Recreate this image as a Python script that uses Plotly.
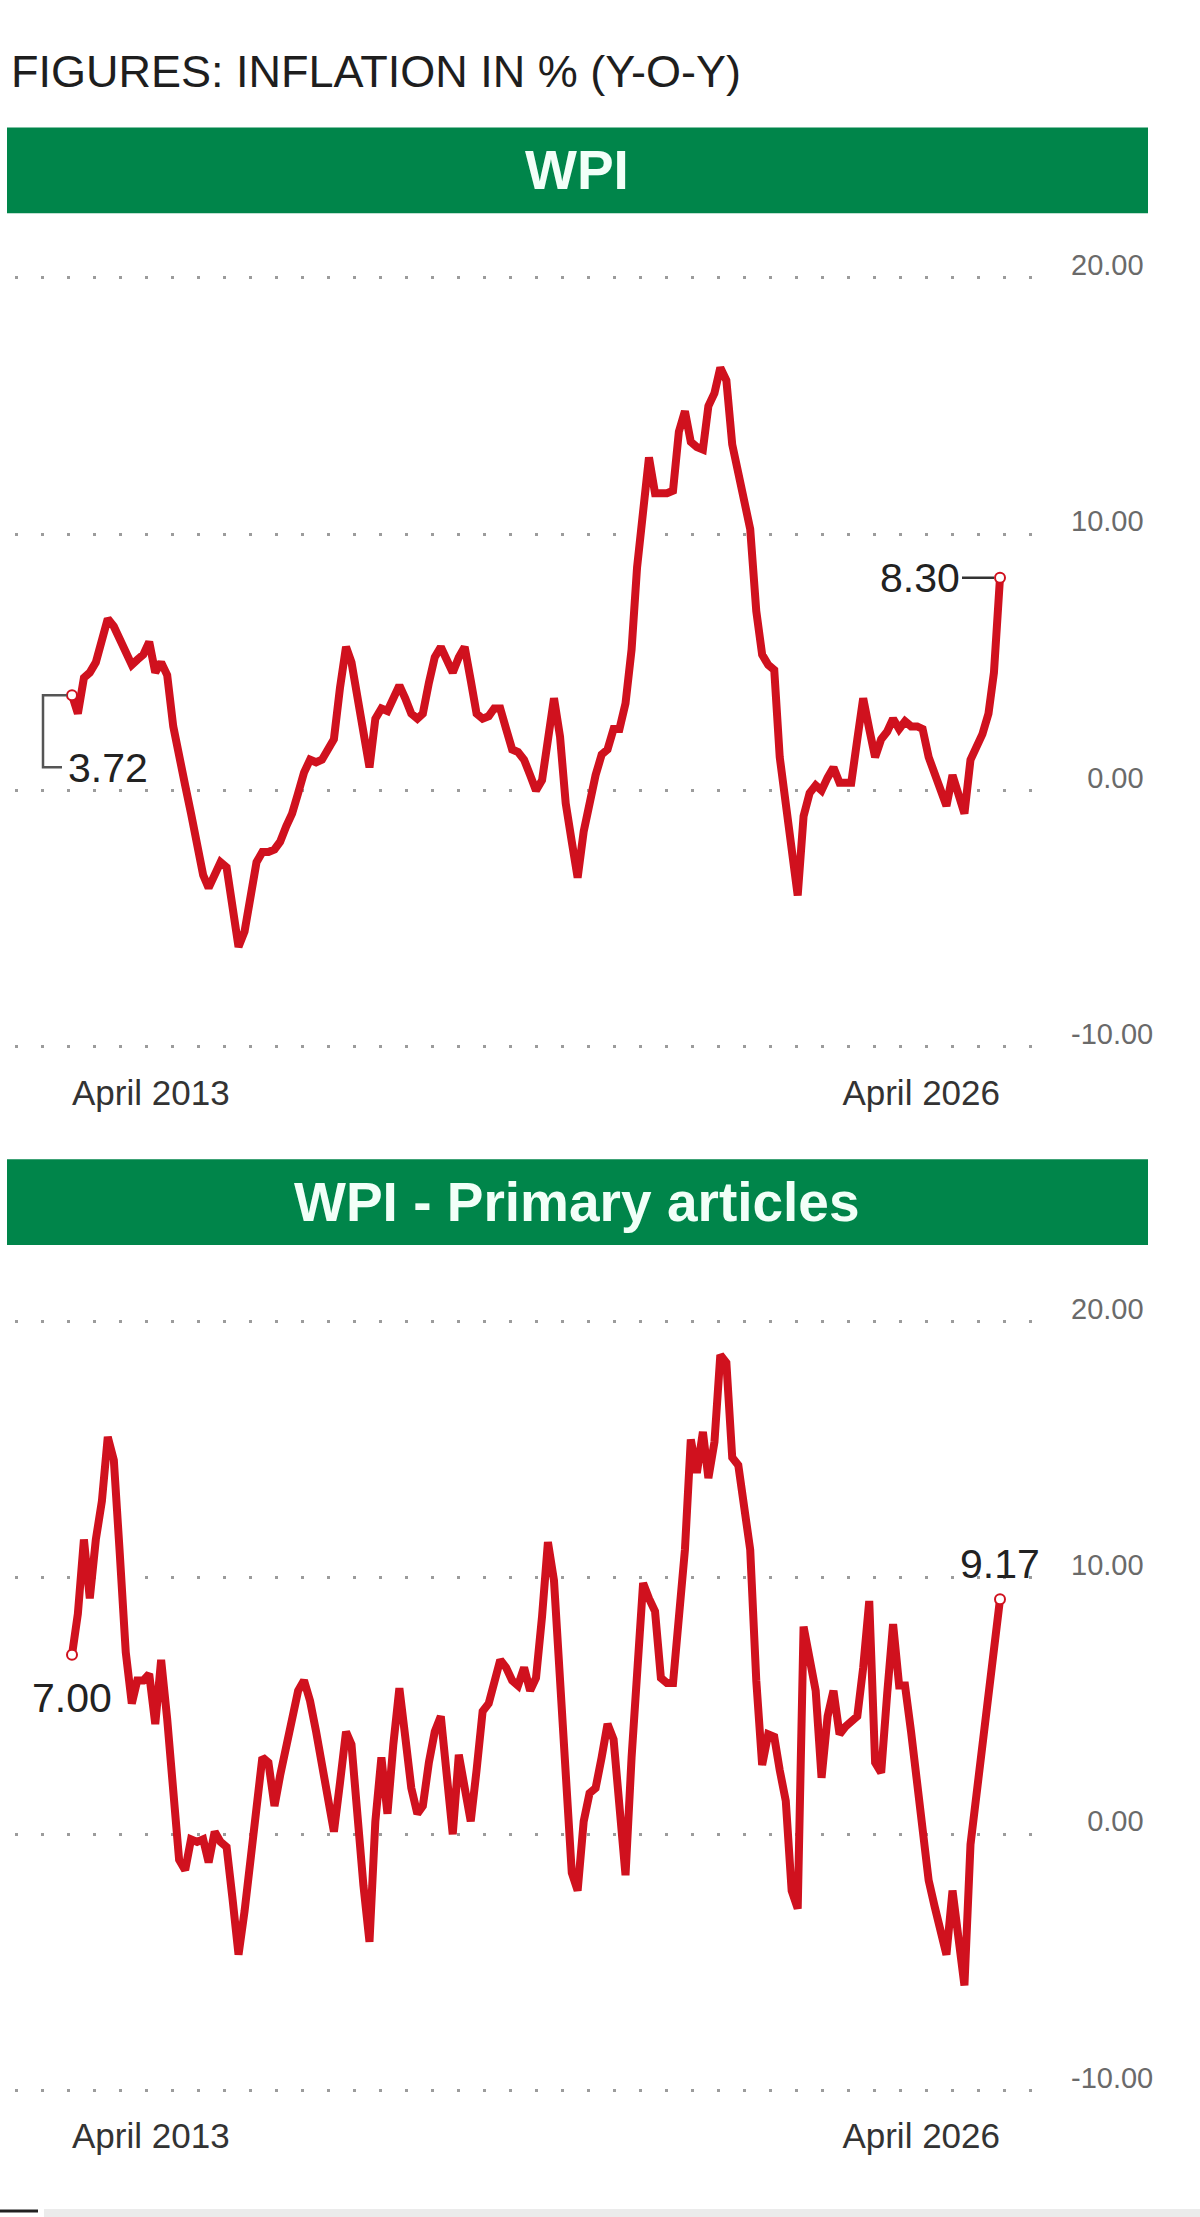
import pandas as pd
import plotly.graph_objects as go

# ---------------- data ----------------
months = pd.date_range("2013-04-01", periods=157, freq="MS")

wpi = [3.72, 3.0, 4.4, 4.6, 5.0, 6.0, 6.7, 6.4, 5.9, 5.3,
       4.9, 5.1, 5.3, 5.8, 4.6, 5.0, 4.5, 2.5, 1.5, 0.2,
       -0.9, -2.1, -3.3, -3.8, -3.2, -2.8, -3.0, -4.8, -6.1, -5.5,
       -4.0, -2.8, -2.4, -2.4, -2.3, -2.0, -1.4, -0.9, -0.1, 0.7,
       1.2, 1.1, 1.2, 1.6, 2.0, 4.0, 5.6, 5.0, 3.5, 2.0,
       0.9, 2.8, 3.2, 3.1, 3.6, 4.1, 3.6, 3.0, 2.8, 3.0,
       4.2, 5.2, 5.6, 5.1, 4.6, 5.2, 5.6, 4.3, 3.0, 2.8,
       2.9, 3.2, 3.2, 2.4, 1.6, 1.5, 1.2, 0.6, 0.0, 0.4,
       2.2, 3.6, 2.1, -0.5, -2.0, -3.4, -1.6, -0.4, 0.6, 1.4,
       1.6, 2.4, 2.4, 3.4, 5.5, 8.7, 11.0, 13.0, 11.6, 11.6,
       11.6, 11.7, 14.0, 14.8, 13.6, 13.4, 13.3, 15.0, 15.5, 16.5,
       16.0, 13.5, 12.3, 11.2, 10.2, 7.0, 5.3, 4.9, 4.7, 1.3,
       -0.5, -2.5, -4.1, -1.0, -0.1, 0.2, 0.0, 0.5, 0.9, 0.3,
       0.3, 0.3, 2.0, 3.6, 2.4, 1.3, 2.0, 2.3, 2.8, 2.4,
       2.7, 2.5, 2.5, 2.4, 1.3, 0.6, 0.0, -0.6, 0.6, -0.2,
       -0.9, 1.2, 1.7, 2.2, 3.0, 4.6, 8.30]

primary = [7.00, 8.6, 11.5, 9.2, 11.5, 13.0, 15.5, 14.6, 11.0, 7.1,
           5.1, 6.0, 6.0, 6.25, 4.3, 6.8, 4.5, 1.5, -1.0, -1.4,
           -0.2, -0.3, -0.2, -1.1, 0.1, -0.3, -0.5, -2.5, -4.7, -3.0,
           -0.8, 1.0, 3.0, 2.8, 1.1, 2.3, 3.5, 4.6, 5.6, 6.0,
           5.2, 4.0, 2.8, 1.4, 0.1, 2.0, 4.0, 3.5, 0.5, -2.0,
           -4.2, 0.5, 3.0, 0.8, 3.5, 5.7, 3.8, 1.8, 0.8, 1.1,
           2.8, 4.0, 4.6, 2.2, 0.0, 3.1, 1.8, 0.5, 2.5, 4.8,
           5.1, 6.0, 6.8, 6.5, 6.0, 5.8, 6.5, 5.6, 6.1, 8.5,
           11.4, 9.9, 6.0, 1.5, -1.5, -2.2, 0.5, 1.6, 1.8, 3.0,
           4.3, 3.7, 1.2, -1.6, 3.0, 6.5, 9.8, 9.2, 8.7, 6.1,
           5.9, 5.9, 8.5, 11.1, 15.4, 14.1, 15.7, 13.9, 15.3, 18.7,
           18.4, 14.7, 14.4, 12.5, 11.1, 6.0, 2.7, 3.9, 3.8, 2.5,
           1.3, -2.2, -2.9, 8.1, 6.8, 5.6, 2.2, 4.6, 5.6, 3.9,
           4.2, 4.4, 4.6, 6.5, 9.1, 2.8, 2.4, 5.5, 8.2, 5.8,
           5.8, 4.0, 2.0, 0.2, -1.8, -2.8, -3.8, -4.7, -2.2, -4.4,
           -5.9, -0.4, 1.5, 3.0, 5.0, 7.1, 9.17]

title_text = "FIGURES: INFLATION IN % (Y-O-Y)"
panel_titles = ["WPI", "WPI - Primary articles"]
x_tick_labels = ["April 2013", "April 2026"]
y_tick_values = [-10, 0, 10, 20]
y_tick_labels = ["-10.00", "\u20070.00", "10.00", "20.00"]

# ---------------- styling / layout ----------------
W, H = 1200, 2217
FONT = "Liberation Sans, Arial, sans-serif"
RED = "#d0111e"
GREEN = "#00854a"
GRID = "#9c9c9c"


def py(v):
    return 1 - v / H


def pxx(v):
    return v / W


x_dom = [pxx(15), pxx(1042)]
px_per_day = (1000 - 72) / (months[-1] - months[0]).days
x_start = months[0] - pd.Timedelta(days=(72 - 15) / px_per_day)
x_end = months[-1] + pd.Timedelta(days=(1042 - 1000) / px_per_day)
x_range = [x_start, x_end]

pad = 20 / (772 / 30)
y_range = [-10 - pad, 20 + pad]

panels = [
    dict(top=250, bottom=1062, series=wpi, xa="x", ya="y", xo="x3"),
    dict(top=1298, bottom=2110, series=primary, xa="x2", ya="y2", xo="x4"),
]

fig = go.Figure()

for p in panels:
    fig.add_trace(go.Scatter(
        x=months, y=p["series"], xaxis=p["xa"], yaxis=p["ya"],
        mode="lines", line=dict(color=RED, width=8),
        hoverinfo="skip", showlegend=False))
    fig.add_trace(go.Scatter(
        x=[months[0], months[-1]], y=[p["series"][0], p["series"][-1]],
        xaxis=p["xa"], yaxis=p["ya"], mode="markers",
        marker=dict(symbol="circle", size=10, color="white",
                    line=dict(color=RED, width=2)),
        hoverinfo="skip", showlegend=False))
    # empty trace so the overlay axis (right-hand date label) is drawn
    fig.add_trace(go.Scatter(x=[], y=[], xaxis=p["xo"], yaxis=p["ya"],
                             showlegend=False))

xcommon = dict(type="date", range=x_range, showgrid=False, zeroline=False,
               showline=False, ticks="",
               tickfont=dict(family=FONT, size=35, color="#333333"),
               ticklabelstandoff=2)
ycommon = dict(range=y_range, side="right", tickvals=y_tick_values,
               ticktext=y_tick_labels, showgrid=True, gridcolor=GRID,
               gridwidth=3, griddash="3px,23px", zeroline=False,
               showline=False, ticks="", ticklabelshift=-13,
               ticklabelstandoff=28,
               tickfont=dict(family=FONT, size=29, color="#6a6a6a"))

layout_axes = {}
for i, p in enumerate(panels):
    n1 = "" if i == 0 else "2"
    yname = "yaxis" + n1
    layout_axes["xaxis" + n1] = dict(
        xcommon, domain=x_dom, anchor=p["ya"],
        tickvals=[months[0]], ticktext=[x_tick_labels[0]],
        ticklabelposition="outside right")
    layout_axes["xaxis" + p["xo"][1:]] = dict(
        xcommon, anchor=p["ya"], overlaying=p["xa"], matches=p["xa"],
        tickvals=[months[-1]], ticktext=[x_tick_labels[1]],
        ticklabelposition="outside left")
    layout_axes[yname] = dict(ycommon, domain=[py(p["bottom"]), py(p["top"])],
                              anchor=p["xa"])

fig.update_layout(**layout_axes)

shapes = []
annotations = []

# green header bars
for (t, b), label in zip([(119, 205), (1155, 1241)], panel_titles):
    shapes.append(dict(type="rect", xref="paper", yref="paper",
                       x0=pxx(7), x1=pxx(1148), y0=py(b), y1=py(t),
                       fillcolor=GREEN, line=dict(width=0), layer="below"))
    annotations.append(dict(xref="paper", yref="paper", x=pxx(577),
                            y=py((t + b) / 2), text=f"<b>{label}</b>",
                            showarrow=False, xanchor="center",
                            yanchor="middle",
                            font=dict(family=FONT, size=55, color="#f2fff8")))

# main title
annotations.append(dict(xref="paper", yref="paper", x=pxx(9), y=py(63),
                        text=title_text, showarrow=False, xanchor="left",
                        yanchor="middle",
                        font=dict(family=FONT, size=45, color="#1e1e1e")))

VAL_FONT = dict(family=FONT, size=41, color="#222222")

# WPI first value: bracket + label
shapes.append(dict(type="path", xref="x", yref="y", xsizemode="pixel",
                   ysizemode="pixel", xanchor=months[0], yanchor=wpi[0],
                   path="M -5 0 L -29 0 L -29 -72 L -10 -72",
                   line=dict(color="#555555", width=2.5)))
annotations.append(dict(xref="x", yref="y", x=months[0], y=wpi[0],
                        text=f"{wpi[0]:.2f}", showarrow=False,
                        xanchor="left", yanchor="top", xshift=-6,
                        yshift=-48, font=VAL_FONT))
# WPI last value with leader dash
annotations.append(dict(xref="x", yref="y", x=months[-1], y=wpi[-1],
                        text=f"{wpi[-1]:.2f}", showarrow=True, arrowhead=0,
                        arrowwidth=2.5, arrowcolor="#333333", ax=-38, ay=0,
                        xanchor="right", yanchor="middle", standoff=6,
                        font=VAL_FONT))
# Primary first / last values
annotations.append(dict(xref="x2", yref="y2", x=months[0], y=primary[0],
                        text=f"{primary[0]:.2f}", showarrow=False,
                        xanchor="center", yanchor="top", yshift=-18,
                        font=VAL_FONT))
annotations.append(dict(xref="x2", yref="y2", x=months[-1], y=primary[-1],
                        text=f"{primary[-1]:.2f}", showarrow=False,
                        xanchor="center", yanchor="bottom", yshift=10,
                        font=VAL_FONT))

# bottom rule
shapes.append(dict(type="line", xref="paper", yref="paper", x0=0,
                   x1=pxx(38), y0=py(2211), y1=py(2211),
                   line=dict(color="#222222", width=3)))
shapes.append(dict(type="rect", xref="paper", yref="paper", x0=pxx(44),
                   x1=1, y0=0, y1=py(2209), fillcolor="#ebebeb",
                   line=dict(width=0)))

fig.update_layout(
    width=W, height=H, margin=dict(l=0, r=0, t=0, b=0),
    paper_bgcolor="white", plot_bgcolor="white",
    showlegend=False, shapes=shapes, annotations=annotations,
    font=dict(family=FONT),
)

fig.write_html("out.html")
